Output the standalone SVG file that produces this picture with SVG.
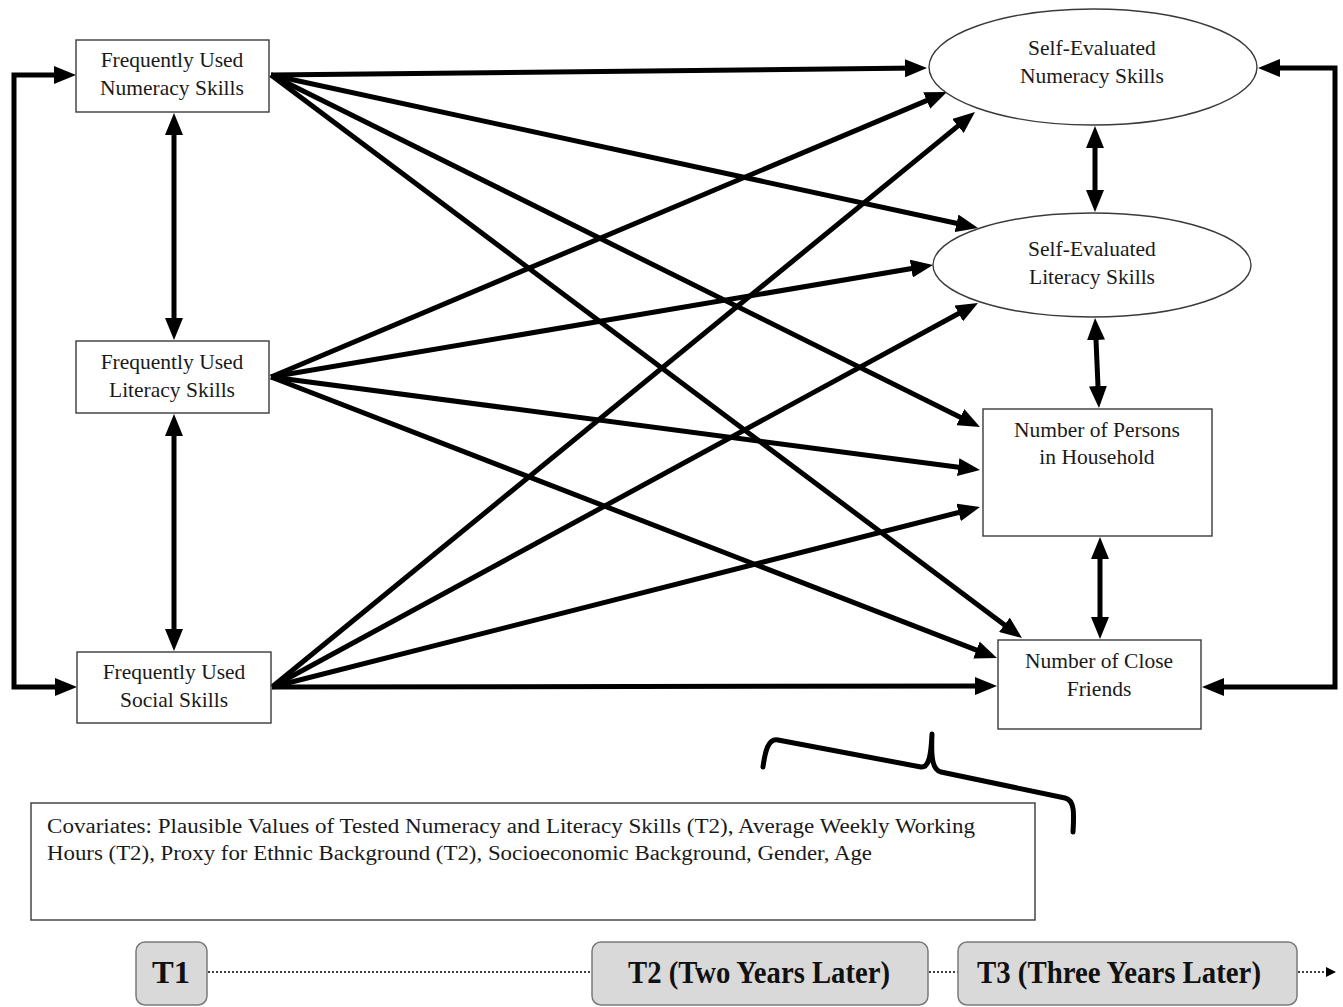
<svg xmlns="http://www.w3.org/2000/svg" width="1343" height="1007" viewBox="0 0 1343 1007">
<style>
.box{fill:#fff;stroke:#3a3a3a;stroke-width:1.4}
.ell{fill:#fff;stroke:#3a3a3a;stroke-width:1.4}
.lbl{font-family:"Liberation Serif","Times New Roman",serif;font-size:21.5px;fill:#1a1a1a;text-anchor:middle}
.cov{font-family:"Liberation Serif","Times New Roman",serif;font-size:20px;fill:#1a1a1a}
.arr{stroke:#000;stroke-width:5;fill:none;marker-end:url(#ah)}
.dbl{stroke:#000;stroke-width:5;fill:none;marker-end:url(#ah);marker-start:url(#ah)}
.tbox{fill:#d9d9d9;stroke:#7a7a7a;stroke-width:1.5}
.tl{font-family:"Liberation Serif","Times New Roman",serif;font-weight:bold;font-size:32px;fill:#111;text-anchor:middle}
.dot{stroke:#000;stroke-width:1.6;stroke-dasharray:2 2;fill:none}
</style>
<defs>
<marker id="ah" markerUnits="userSpaceOnUse" markerWidth="22" markerHeight="18" viewBox="0 0 22 18" refX="14" refY="9" orient="auto-start-reverse">
<path d="M0,0 L22,9 L0,18 z" fill="#000"/>
</marker>
<marker id="sh" markerUnits="userSpaceOnUse" markerWidth="10" markerHeight="10" viewBox="0 0 10 10" refX="2" refY="5" orient="auto">
<path d="M0,0 L10,5 L0,10 z" fill="#000"/>
</marker>
</defs>

<g id="connectors">
<path class="arr" d="M271,75 L919,68.1"/>
<path class="arr" d="M271,75 L970.2,226.3"/>
<path class="arr" d="M271,75 L972.8,423.4"/>
<path class="arr" d="M271,75 L1015.6,633.2"/>
<path class="arr" d="M271,377 L939.6,95.1"/>
<path class="arr" d="M271,377 L925.1,266.3"/>
<path class="arr" d="M271,377 L972.1,469"/>
<path class="arr" d="M271,377 L989.5,655.1"/>
<path class="arr" d="M272,687 L968.8,117.1"/>
<path class="arr" d="M272,687 L971,306.8"/>
<path class="arr" d="M272,687 L972.2,509"/>
<path class="arr" d="M272,687 L989,686"/>
<path class="dbl" d="M174,121 L174,332"/>
<path class="dbl" d="M174,422 L174,643"/>
<path class="dbl" d="M1095,134 L1095,204"/>
<path class="dbl" d="M1095.4,326 L1098.6,400"/>
<path class="dbl" d="M1100,545 L1100,631"/>
<path class="dbl" d="M68,75 H14 V687 H69"/>
<path class="dbl" d="M1266,68 H1335 V687 H1210"/>
</g>

<g id="fun"><rect class="box" x="76" y="40" width="193" height="72"/>
<text class="lbl" x="172" y="67">Frequently Used</text><text class="lbl" x="172" y="95">Numeracy Skills</text></g>
<g id="ful"><rect class="box" x="76" y="341" width="193" height="72"/>
<text class="lbl" x="172" y="369">Frequently Used</text><text class="lbl" x="172" y="397">Literacy Skills</text></g>
<g id="fus"><rect class="box" x="77" y="652" width="194" height="71"/>
<text class="lbl" x="174" y="679">Frequently Used</text><text class="lbl" x="174" y="707">Social Skills</text></g>

<g id="sen"><ellipse class="ell" cx="1093" cy="67" rx="164" ry="58"/>
<text class="lbl" x="1092" y="55">Self-Evaluated</text><text class="lbl" x="1092" y="83">Numeracy Skills</text></g>
<g id="sel"><ellipse class="ell" cx="1092" cy="265" rx="159" ry="52"/>
<text class="lbl" x="1092" y="256">Self-Evaluated</text><text class="lbl" x="1092" y="284">Literacy Skills</text></g>
<g id="nph"><rect class="box" x="983" y="409" width="229" height="127"/>
<text class="lbl" x="1097" y="437">Number of Persons</text><text class="lbl" x="1097" y="464">in Household</text></g>
<g id="ncf"><rect class="box" x="998" y="640" width="203" height="89"/>
<text class="lbl" x="1099" y="668">Number of Close</text><text class="lbl" x="1099" y="696">Friends</text></g>

<g id="bracket"><path d="M763,767 C765,752 768,738 778,740 L921,767 C929,768 931,755 932,734 C931,756 932,770 941,772 L1065,798 C1075,800 1074,815 1073,832" fill="none" stroke="#000" stroke-width="5" stroke-linecap="round" stroke-linejoin="round"/></g>

<g id="covariates"><rect class="box" x="31" y="803" width="1004" height="117"/>
<text class="cov" x="47" y="833" textLength="928" lengthAdjust="spacingAndGlyphs">Covariates: Plausible Values of Tested Numeracy and Literacy Skills (T2), Average Weekly Working</text>
<text class="cov" x="47" y="860" textLength="825" lengthAdjust="spacingAndGlyphs">Hours (T2), Proxy for Ethnic Background (T2), Socioeconomic Background, Gender, Age</text></g>

<g id="timeline">
<path class="dot" d="M208,972 H592"/>
<path class="dot" d="M929,972 H958"/>
<path class="dot" d="M1298,972 H1328" marker-end="url(#sh)"/>
<g id="t1"><rect class="tbox" x="136" y="942" width="71" height="63" rx="9"/>
<text class="tl" x="171" y="983" textLength="38" lengthAdjust="spacingAndGlyphs">T1</text></g>
<g id="t2"><rect class="tbox" x="592" y="942" width="336" height="63" rx="9"/>
<text class="tl" x="759" y="983" textLength="262" lengthAdjust="spacingAndGlyphs">T2 (Two Years Later)</text></g>
<g id="t3"><rect class="tbox" x="958" y="942" width="339" height="63" rx="9"/>
<text class="tl" x="1119" y="983" textLength="284" lengthAdjust="spacingAndGlyphs">T3 (Three Years Later)</text></g>
</g>
</svg>
